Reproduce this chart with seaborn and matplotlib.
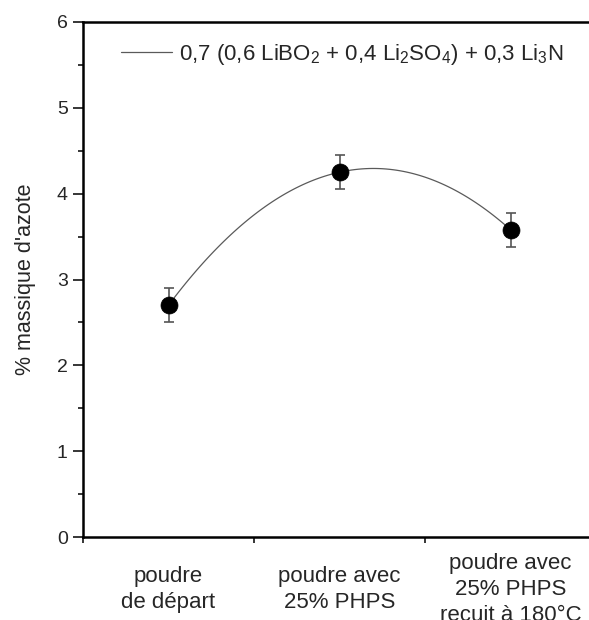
import numpy as np
import pandas as pd
import matplotlib
matplotlib.use("Agg")
import matplotlib.pyplot as plt
import seaborn as sns

# Data
categories = ["poudre\nde départ", "poudre avec\n25% PHPS", "poudre avec\n25% PHPS\nrecuit à 180°C"]
positions = [0.5, 1.5, 2.5]
nitrogen = [2.70, 4.25, 3.58]
errors = [0.20, 0.20, 0.20]
legend_label = r"0,7 (0,6 LiBO$_2$ + 0,4 Li$_2$SO$_4$) + 0,3 Li$_3$N"
ylabel = "% massique d'azote"

df = pd.DataFrame({"x": positions, "y": nitrogen, "err": errors})

sns.set_theme(style="ticks")
plt.rcParams["font.family"] = ["Liberation Sans", "DejaVu Sans"]
plt.rcParams["mathtext.fontset"] = "custom"
plt.rcParams["mathtext.rm"] = "Liberation Sans"
plt.rcParams["mathtext.it"] = "Liberation Sans"

fig = plt.figure(figsize=(5.89, 6.20), dpi=100)
W, H = 589, 620
left, right, top, bottom = 83, 596, 22, 537
ax = fig.add_axes([left / W, 1 - bottom / H, (right - left) / W, (bottom - top) / H])

# smooth curve (2nd-order fit through the points)
sns.regplot(data=df, x="x", y="y", order=2, ci=None, scatter=False, truncate=True,
            ax=ax, line_kws=dict(color="#5a5a5a", lw=0.9), label=legend_label)

ax.errorbar(df["x"], df["y"], yerr=df["err"], fmt="none", ecolor="#555555",
            elinewidth=1.2, capsize=3.8, capthick=1.2, zorder=3)
sns.scatterplot(data=df, x="x", y="y", ax=ax, color="black", s=150, edgecolor="black",
                linewidth=0.5, zorder=4, legend=False)

ax.set_xlim(0, 3)
ax.set_ylim(0, 6)
ax.set_xlabel("")
ax.set_ylabel(ylabel, fontsize=15.5, labelpad=15)

ax.set_yticks(np.arange(0, 7, 1))
ax.set_yticks(np.arange(0.5, 6, 1), minor=True)
ax.tick_params(axis="y", which="major", length=7.5, width=1.3, labelsize=14, pad=3.5, direction="out")
ax.tick_params(axis="y", which="minor", length=3.6, width=1.3, direction="out")

ax.set_xticks([0, 1, 2, 3])
ax.set_xticklabels([])
ax.tick_params(axis="x", which="major", length=4.5, width=1.3, direction="out")
ax.set_xticks(positions, minor=True)
ax.set_xticklabels(categories, minor=True, fontsize=16, linespacing=1.31)
ax.tick_params(axis="x", which="minor", length=0, pad=38)
for lbl in ax.get_xticklabels(minor=True):
    lbl.set_va("center")

for s in ["left", "bottom", "top"]:
    ax.spines[s].set_linewidth(1.8)
    ax.spines[s].set_color("black")
ax.spines["right"].set_visible(False)

leg = ax.legend(loc="upper left", bbox_to_anchor=(0.035, 1.0), frameon=False,
                fontsize=16, handlelength=2.3, handletextpad=0.32)

fig.savefig("out.png", dpi=100)
